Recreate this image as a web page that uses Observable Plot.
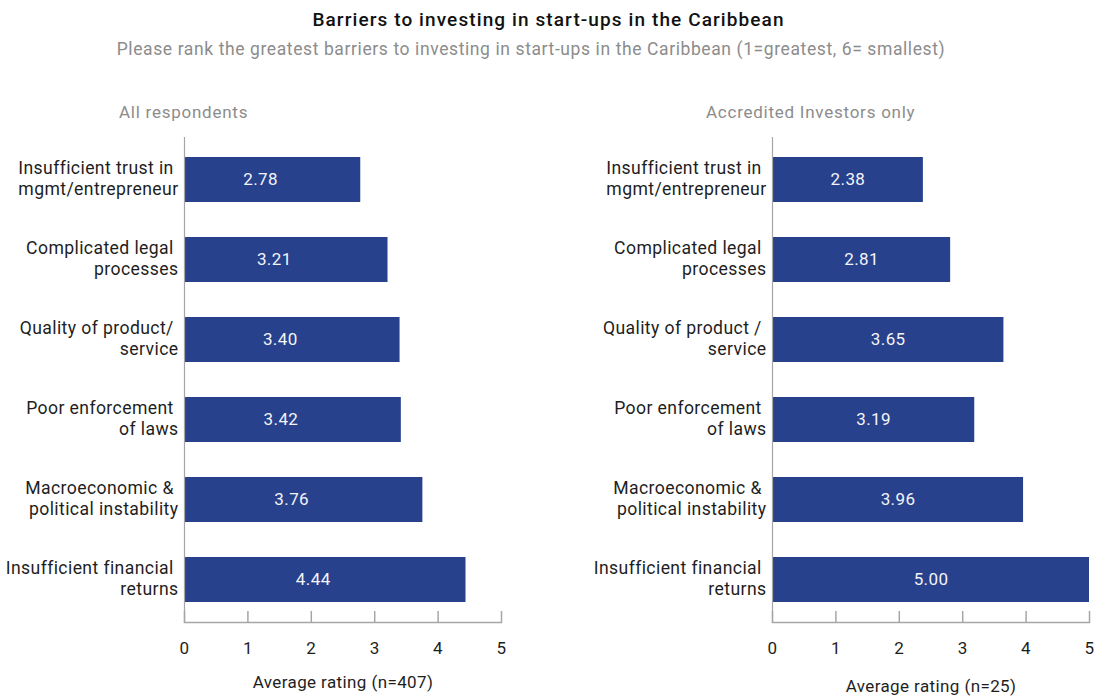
<!DOCTYPE html>
<html>
<head>
<meta charset="utf-8">
<script src="https://cdn.jsdelivr.net/npm/d3@7"></script>
<script src="https://cdn.jsdelivr.net/npm/@observablehq/plot@0.6"></script>
<style>
  body { margin: 0; background: #fff; font-family: Roboto, "Noto Sans", sans-serif; }
  #wrap { position: relative; width: 1097px; height: 698px; overflow: hidden; }
  .t { position: absolute; white-space: pre; line-height: 1; }
  #title { left: 0; width: 1097px; text-align: center; top: 10px; font-size: 19px; font-weight: 500; letter-spacing: 1.1px; color: #111; }
  #subtitle { left: 0; width: 1062px; text-align: center; top: 41px; font-size: 17.5px; letter-spacing: 0.6px; color: #8c8c8c; }
  .ptitle { top: 104px; font-size: 17px; letter-spacing: 0.75px; color: #8c8c8c; }
  .panel { position: absolute; top: 0; }
  svg text { white-space: pre; }
</style>
</head>
<body>
<div id="wrap">
  <div id="title" class="t">Barriers to investing in start-ups in the Caribbean</div>
  <div id="subtitle" class="t">Please rank the greatest barriers to investing in start-ups in the Caribbean (1=greatest, 6= smallest)</div>
  <div class="t ptitle" style="left:119px">All respondents</div>
  <div class="t ptitle" style="left:706px">Accredited Investors only</div>
  <div id="left" class="panel" style="left:0px"></div>
  <div id="right" class="panel" style="left:587px"></div>
</div>
<script>
// ---- data ----
const leftCategories = [
  "Insufficient trust in \nmgmt/entrepreneur",
  "Complicated legal \nprocesses",
  "Quality of product/ \nservice",
  "Poor enforcement \nof laws",
  "Macroeconomic & \npolitical instability",
  "Insufficient financial \nreturns"
];
const leftValues = [2.78, 3.21, 3.40, 3.42, 3.76, 4.44];

const rightCategories = [
  "Insufficient trust in \nmgmt/entrepreneur",
  "Complicated legal \nprocesses",
  "Quality of product / \nservice",
  "Poor enforcement \nof laws",
  "Macroeconomic & \npolitical instability",
  "Insufficient financial \nreturns"
];
const rightValues = [2.38, 2.81, 3.65, 3.19, 3.96, 5.00];

const xTicks = [0, 1, 2, 3, 4, 5];
const leftAxisTitle = "Average rating (n=407)";
const rightAxisTitle = "Average rating (n=25)";

const BAR = "#27418d";
const GRID = "#a6a6a6";
const INK = "#1e1e1e";

function panel(categories, values, opts) {
  const rows = categories.map((c, i) => ({label: c, value: values[i]}));
  return Plot.plot({
    width: opts.width,
    height: 698,
    marginTop: 137,
    marginBottom: 76,
    marginLeft: opts.marginLeft,
    marginRight: opts.marginRight,
    style: {fontFamily: "Roboto, 'Noto Sans', sans-serif", fontSize: "16px", color: INK, background: "transparent", letterSpacing: "0.4px", overflow: "visible"},
    x: {domain: [0, 5], ticks: xTicks},
    y: {domain: categories, paddingInner: 0.432, paddingOuter: 0.21},
    marks: [
      Plot.barX(rows, {x: "value", y: "label", fill: BAR}),
      Plot.text(rows, {x: d => d.value / 2, y: "label", text: d => d.value.toFixed(2), fill: "#f4f4f8", fontSize: 17, dx: opts.labelDx}),
      Plot.frame({anchor: "left", stroke: GRID, strokeWidth: 1.2}),
      Plot.frame({anchor: "bottom", stroke: GRID, strokeWidth: 1.5}),
      Plot.axisX({ticks: xTicks, tickSize: 11, dy: -11, tickFormat: () => "", stroke: GRID, strokeWidth: 1.5, label: null}),
      Plot.axisX({ticks: xTicks, tickSize: 0, tickPadding: 19, tickFormat: d3.format("d"), fontSize: 17, fill: INK,
        label: opts.axisTitle, labelAnchor: "center", labelOffset: opts.labelOffset, labelArrow: "none"}),
      Plot.axisY({tickSize: 0, tickPadding: 6, label: null, fontSize: 17.6, fill: INK, lineHeight: 1.22, dy: -2.5})
    ]
  });
}

document.getElementById("left").appendChild(panel(leftCategories, leftValues, {
  width: 520, marginLeft: 184, marginRight: 19, labelDx: -12, axisTitle: leftAxisTitle, labelOffset: 65
}));
document.getElementById("right").appendChild(panel(rightCategories, rightValues, {
  width: 510, marginLeft: 185, marginRight: 8, labelDx: 0, axisTitle: rightAxisTitle, labelOffset: 69
}));
</script>
</body>
</html>
